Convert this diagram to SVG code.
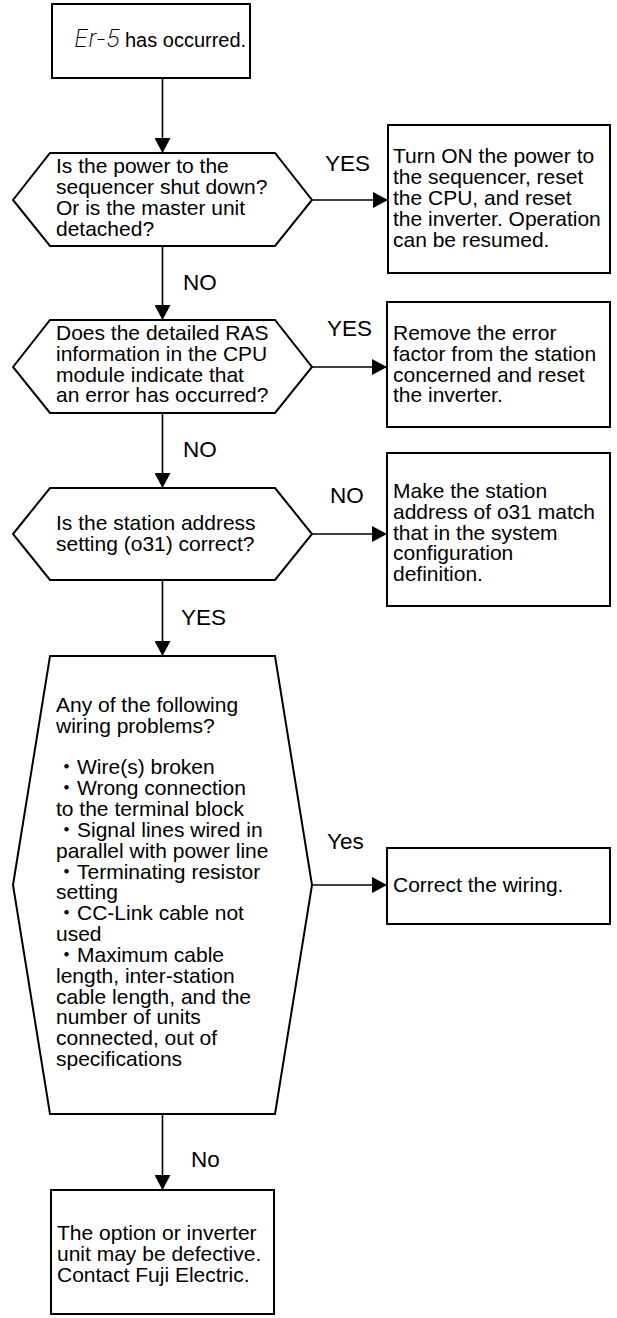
<svg xmlns="http://www.w3.org/2000/svg" width="617" height="1318" viewBox="0 0 617 1318">
<style>
.shape{fill:#fff;stroke:#000;stroke-width:2}
.t{font-family:"Liberation Sans","Noto Sans CJK JP",Arial,sans-serif;font-size:21px;fill:#000}
.lbl{font-family:"Liberation Sans",Arial,sans-serif;font-size:22.5px;fill:#000}
.seg{font-family:"Inter","Liberation Sans",sans-serif;font-size:24px;font-style:italic;font-weight:200;fill:#000}
.c{stroke:#000;stroke-width:1.6;fill:none;marker-end:url(#ah)}
</style>
<defs>
<marker id="ah" markerWidth="15" markerHeight="16" refX="15" refY="8" orient="auto" markerUnits="userSpaceOnUse" viewBox="0 0 15 16">
<path d="M0,0 L15,8 L0,16 Z" fill="#000"/>
</marker>
</defs>
<g id="connectors">
<line class="c" x1="162.5" y1="78" x2="162.5" y2="153"/>
<line class="c" x1="162.5" y1="246" x2="162.5" y2="320"/>
<line class="c" x1="162.5" y1="413" x2="162.5" y2="488"/>
<line class="c" x1="162.5" y1="580" x2="162.5" y2="656"/>
<line class="c" x1="162.5" y1="1114" x2="162.5" y2="1190"/>
<line class="c" x1="312" y1="200" x2="388" y2="200"/>
<line class="c" x1="312" y1="367" x2="387" y2="367"/>
<line class="c" x1="312" y1="534" x2="387" y2="534"/>
<line class="c" x1="312" y1="885" x2="387" y2="885"/>
<text class="lbl" x="325" y="171">YES</text>
<text class="lbl" x="183" y="290">NO</text>
<text class="lbl" x="327" y="336">YES</text>
<text class="lbl" x="183" y="457">NO</text>
<text class="lbl" x="330" y="503">NO</text>
<text class="lbl" x="181" y="625">YES</text>
<text class="lbl" x="327" y="849">Yes</text>
<text class="lbl" x="191" y="1167">No</text>
</g>
<g id="start">
<rect class="shape" x="52" y="4" width="198" height="74"/>
<text class="seg" x="74" y="47">Er-5</text>
<text class="t" x="125" y="47" style="font-size:20px">has occurred.</text>
</g>
<g id="d1">
<polygon class="shape" points="13,200 50,153 275,153 312,200 275,246 50,246"/>
<text class="t" x="56" y="173.3">Is the power to the</text>
<text class="t" x="56" y="194.1">sequencer shut down?</text>
<text class="t" x="56" y="214.9">Or is the master unit</text>
<text class="t" x="56" y="235.7">detached?</text>
</g>
<g id="b1">
<rect class="shape" x="388" y="125" width="222" height="148"/>
<text class="t" x="393" y="163.3">Turn ON the power to</text>
<text class="t" x="393" y="184.1">the sequencer, reset</text>
<text class="t" x="393" y="204.9">the CPU, and reset</text>
<text class="t" x="393" y="225.7">the inverter. Operation</text>
<text class="t" x="393" y="246.5">can be resumed.</text>
</g>
<g id="d2">
<polygon class="shape" points="13,367 50,320 275,320 312,367 275,413 50,413"/>
<text class="t" x="56" y="340">Does the detailed RAS</text>
<text class="t" x="56" y="360.8">information in the CPU</text>
<text class="t" x="56" y="381.6">module indicate that</text>
<text class="t" x="56" y="402.4">an error has occurred?</text>
</g>
<g id="b2">
<rect class="shape" x="387" y="302" width="223" height="125"/>
<text class="t" x="393" y="340">Remove the error</text>
<text class="t" x="393" y="360.8">factor from the station</text>
<text class="t" x="393" y="381.6">concerned and reset</text>
<text class="t" x="393" y="402.4">the inverter.</text>
</g>
<g id="d3">
<polygon class="shape" points="13,534 50,488 275,488 312,534 275,580 50,580"/>
<text class="t" x="56" y="530">Is the station address</text>
<text class="t" x="56" y="550.8">setting (o31) correct?</text>
</g>
<g id="b3">
<rect class="shape" x="387" y="453" width="223" height="153"/>
<text class="t" x="393" y="498">Make the station</text>
<text class="t" x="393" y="518.8">address of o31 match</text>
<text class="t" x="393" y="539.6">that in the system</text>
<text class="t" x="393" y="560.4">configuration</text>
<text class="t" x="393" y="581.2">definition.</text>
</g>
<g id="d4">
<polygon class="shape" points="13,885 50,656 275,656 312,885 275,1114 50,1114"/>
<text class="t" x="56" y="711.7">Any of the following</text>
<text class="t" x="56" y="732.55">wiring problems?</text>
<text class="t" x="56" y="774.25">・Wire(s) broken</text>
<text class="t" x="56" y="795.1">・Wrong connection</text>
<text class="t" x="56" y="815.95">to the terminal block</text>
<text class="t" x="56" y="836.8">・Signal lines wired in</text>
<text class="t" x="56" y="857.65">parallel with power line</text>
<text class="t" x="56" y="878.5">・Terminating resistor</text>
<text class="t" x="56" y="899.35">setting</text>
<text class="t" x="56" y="920.2">・CC-Link cable not</text>
<text class="t" x="56" y="941.05">used</text>
<text class="t" x="56" y="961.9">・Maximum cable</text>
<text class="t" x="56" y="982.75">length, inter-station</text>
<text class="t" x="56" y="1003.6">cable length, and the</text>
<text class="t" x="56" y="1024.45">number of units</text>
<text class="t" x="56" y="1045.3">connected, out of</text>
<text class="t" x="56" y="1066.15">specifications</text>
</g>
<g id="b4">
<rect class="shape" x="387" y="848" width="223" height="76"/>
<text class="t" x="393" y="892">Correct the wiring.</text>
</g>
<g id="b5">
<rect class="shape" x="51" y="1190" width="223" height="124"/>
<text class="t" x="57" y="1240">The option or inverter</text>
<text class="t" x="57" y="1260.8">unit may be defective.</text>
<text class="t" x="57" y="1281.6">Contact Fuji Electric.</text>
</g>
</svg>
